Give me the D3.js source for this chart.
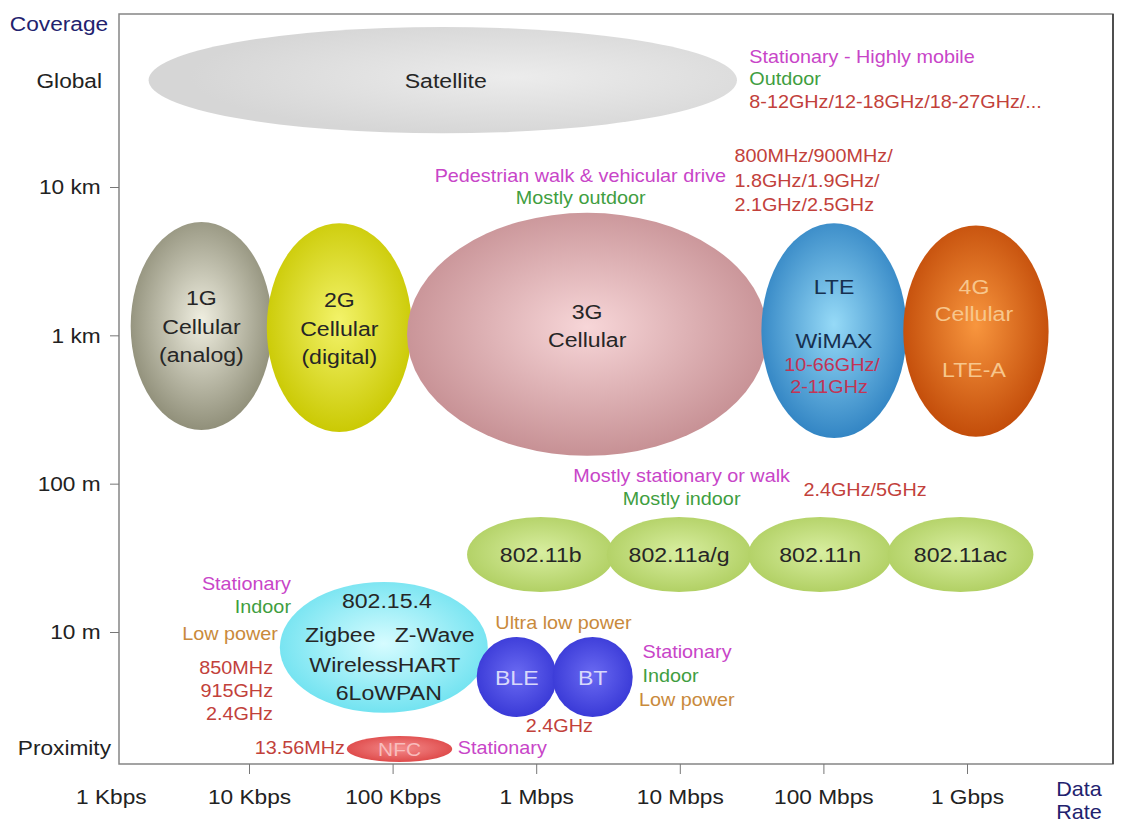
<!DOCTYPE html>
<html><head><meta charset="utf-8">
<script src="https://cdn.jsdelivr.net/npm/d3@7/dist/d3.min.js"></script>
<style>
body{margin:0;background:#fff;}
text{font-family:"Liberation Sans",Arial,sans-serif;}
</style>
</head><body>
<svg id="chart" width="1122" height="823"></svg>
<script>
// ---------------- DATA ----------------
const rateTicks = [1e3, 1e4, 1e5, 1e6, 1e7, 1e8, 1e9];
const rateTickLabels = ["1 Kbps","10 Kbps","100 Kbps","1 Mbps","10 Mbps","100 Mbps","1 Gbps"];
const coverageTicks = [10, 100, 1000, 10000];
const coverageTickLabels = ["10 m","100 m","1 km","10 km"];
const coverageCategories = [52000, 1.65];
const coverageCategoryLabels = ["Global","Proximity"];

const techNames   = ["Satellite","1G","2G","3G","LTE","4G","802.11b","802.11a/g","802.11n","802.11ac","802.15.4","BLE","BT","NFC"];
const rateLow     = [2.0e3, 1.5e3, 1.33e4, 1.26e5, 3.7e7, 3.6e8, 3.3e5, 3.1e6, 3.0e7, 2.8e8, 1.64e4, 3.85e5, 1.3e6, 4.8e4];
const rateHigh    = [2.5e7, 1.45e4, 1.36e5, 4.07e7, 3.8e8, 3.7e9, 3.5e6, 3.15e7, 3.0e8, 2.9e9, 4.6e5, 1.39e6, 4.7e6, 2.6e5];
const coverageLow = [2.3e4, 230, 223, 154, 203, 207, 18.6, 18.6, 18.6, 18.6, 2.85, 2.67, 2.67, 1.33];
const coverageHigh= [1.2e5, 5800, 5700, 6700, 5700, 5500, 59.6, 59.6, 59.6, 59.6, 21.7, 9.25, 9.25, 1.99];
const techLines = [
  ["Satellite"],
  ["1G","Cellular","(analog)"],
  ["2G","Cellular","(digital)"],
  ["3G","Cellular"],
  ["LTE","WiMAX","10-66GHz/","2-11GHz"],
  ["4G","Cellular","LTE-A"],
  ["802.11b"],["802.11a/g"],["802.11n"],["802.11ac"],
  ["802.15.4","Zigbee   Z-Wave","WirelessHART","6LoWPAN"],
  ["BLE"],["BT"],["NFC"]
];

const noteTexts = ["Stationary - Highly mobile","Outdoor","8-12GHz/12-18GHz/18-27GHz/...",
  "Pedestrian walk & vehicular drive","Mostly outdoor",
  "800MHz/900MHz/","1.8GHz/1.9GHz/","2.1GHz/2.5GHz",
  "Mostly stationary or walk","Mostly indoor","2.4GHz/5GHz",
  "Stationary","Indoor","Low power","850MHz","915GHz","2.4GHz",
  "Ultra low power","Stationary","Indoor","Low power","2.4GHz",
  "13.56MHz","Stationary"];
const noteRates = [3.05e7,3.05e7,3.05e7, 2.1e7,2.04e6, 2.4e7,2.4e7,2.4e7, 1.03e7,1.03e7,1.95e8,
  1.96e4,1.96e4,1.59e4,1.47e4,1.47e4,1.47e4, 1.55e6,5.5e6,5.5e6,5.2e6,1.45e6, 4.65e4,2.84e5];
const noteCoverages = [7.5e4,5.4e4,3.75e4, 1.19e4,8450, 1.62e4,1.1e4,7570, 113,78.9,90.7,
  21.1,14.7,9.7,5.72,4.0,2.8, 11.5,7.33,5.05,3.48,2.32, 1.65,1.65];
const noteKinds = ["mobility","environment","band","mobility","environment","band","band","band",
  "mobility","environment","band","mobility","environment","power","band","band","band",
  "power","mobility","environment","power","band","band","mobility"];

// ---------------- STYLE / LAYOUT ----------------
const W = 1122, H = 823;
const frame = {left:119, right:1113, top:14, bottom:764};
const SX_AXIS = 1.08, SX_TEXT = 1.1;
const noteAnchors = ["start","start","start","end","middle","start","start","start","middle","middle","middle",
  "end","end","end","end","end","end","middle","start","start","start","middle","end","start"];
const kindColor = {mobility:"#c845c8", environment:"#3f9e3f", band:"#c2413b", power:"#c98a3c"};
const bubbleColors = {
  "Satellite":["#ececec","#d6d6d6"],
  "1G":["#efeee0","#8d8c76"],
  "2G":["#f3f36a","#c9c800"],
  "3G":["#f7d6d8","#c58e92"],
  "LTE":["#96daf7","#2f82c2"],
  "4G":["#f8963e","#c14a08"],
  "802.11b":["#d8eea0","#b0cf62"],
  "802.11a/g":["#d8eea0","#b0cf62"],
  "802.11n":["#d8eea0","#b0cf62"],
  "802.11ac":["#d8eea0","#b0cf62"],
  "802.15.4":["#d6fcff","#6fe2f0"],
  "BLE":["#6a6af2","#3838d6"],
  "BT":["#6a6af2","#3838d6"],
  "NFC":["#f48c8c","#de4848"]
};
const lineDy = [[1],[-28,1,29],[-28,1,29],[-22,6],[-44,10,34,56],[-44,-17,39],[0],[0],[0],[0],[-47,-13,17,45],[1],[1],[0]];
const lineDx = [[3],[0,0,0],[0,0,0],[0,0],[0,0,-2,-5],[-2,-2,-2],[0],[0],[0],[0],[3,6,1,5],[0],[0],[0]];
function lineColor(name, i){
  if(name==="LTE") return i<2 ? "#17304f" : "#c23455";
  if(name==="4G") return "#f7c68c";
  if(name==="BLE"||name==="BT") return "#d8d8fb";
  if(name==="NFC") return "#f8bcbc";
  return "#262626";
}
function place(sel, px, py, sx){
  return sel.attr("transform",`translate(${px},${py}) scale(${sx},1)`);
}

// ---------------- SCALES ----------------
const x = d3.scaleLog().domain([1e4, 1e9]).range([249, 967]);
const y = d3.scaleLog().domain([10, 10000]).range([632, 187]);

const svg = d3.select("#chart");
svg.append("rect").attr("width",W).attr("height",H).attr("fill","#fff");

// gradients
const defs = svg.append("defs");
techNames.forEach((n,i)=>{
  const g = defs.append("radialGradient").attr("id","g"+i)
    .attr("cx", n==="Satellite" ? "62%" : "50%").attr("cy","47%").attr("r","55%");
  g.append("stop").attr("offset","0%").attr("stop-color",bubbleColors[n][0]);
  g.append("stop").attr("offset","100%").attr("stop-color",bubbleColors[n][1]);
});

// frame
svg.append("rect").attr("x",frame.left).attr("y",frame.top)
  .attr("width",frame.right-frame.left).attr("height",frame.bottom-frame.top)
  .attr("fill","none").attr("stroke","#858585").attr("stroke-width",1.5);
svg.append("line").attr("x1",frame.right).attr("x2",frame.right).attr("y1",frame.top).attr("y2",frame.bottom)
  .attr("stroke","#333").attr("stroke-width",1.5);

// bubbles
const bub = svg.append("g");
techNames.forEach((n,i)=>{
  const x0 = x(rateLow[i]), x1 = x(rateHigh[i]);
  const y0 = y(coverageHigh[i]), y1 = y(coverageLow[i]);
  bub.append("ellipse")
    .attr("cx",(x0+x1)/2).attr("cy",(y0+y1)/2)
    .attr("rx",(x1-x0)/2).attr("ry",(y1-y0)/2)
    .attr("fill","url(#g"+i+")");
});
techNames.forEach((n,i)=>{
  const cx = (x(rateLow[i])+x(rateHigh[i]))/2;
  const cy = (y(coverageHigh[i])+y(coverageLow[i]))/2;
  techLines[i].forEach((t,j)=>{
    const el = bub.append("text")
      .attr("text-anchor","middle").attr("dominant-baseline","central")
      .attr("font-size", (n==="LTE"&&j>=2) ? 18 : (n==="NFC" ? 19 : 21))
      .attr("fill",lineColor(n,j))
      .style("white-space","pre")
      .text(t);
    place(el, cx+lineDx[i][j], cy+lineDy[i][j], SX_TEXT);
  });
});

// annotations
const notes = svg.append("g");
noteTexts.forEach((t,i)=>{
  const el = notes.append("text")
    .attr("text-anchor",noteAnchors[i]).attr("dominant-baseline","central")
    .attr("font-size",18).attr("fill",kindColor[noteKinds[i]]).text(t);
  place(el, x(noteRates[i]), y(noteCoverages[i]), SX_TEXT);
});

// axes
const xAxis = d3.axisBottom(x).tickValues(rateTicks)
  .tickFormat((d,i)=>rateTickLabels[i]).tickSize(10).tickPadding(15);
const gx = svg.append("g").attr("transform",`translate(0,${frame.bottom})`).call(xAxis);
gx.select(".domain").remove();
gx.selectAll(".tick line").attr("stroke","#777").filter(d=>d<1e4).remove();
gx.selectAll(".tick text").attr("font-size",21).attr("fill","#222")
  .attr("font-family","'Liberation Sans',Arial,sans-serif")
  .attr("dx", d=> d<1e4 ? 5 : 0)
  .attr("transform",`scale(${SX_AXIS},1)`);

const yAxis = d3.axisLeft(y).tickValues(coverageTicks)
  .tickFormat(d=>coverageTickLabels[coverageTicks.indexOf(d)]).tickSize(9).tickPadding(8);
const gy = svg.append("g").attr("transform",`translate(${frame.left},0)`).call(yAxis);
gy.select(".domain").remove();
gy.selectAll(".tick line").attr("stroke","#777");
gy.selectAll(".tick text").attr("font-size",21).attr("fill","#222")
  .attr("font-family","'Liberation Sans',Arial,sans-serif")
  .attr("transform",`scale(${SX_AXIS},1)`);

// category labels on coverage axis (no tick)
coverageCategories.forEach((v,i)=>{
  const el = svg.append("text")
    .attr("text-anchor","end").attr("dominant-baseline","central")
    .attr("font-size",21).attr("fill","#222").text(coverageCategoryLabels[i]);
  place(el, i===0 ? 102 : 111, y(v), SX_AXIS);
});

// axis titles
place(svg.append("text").attr("text-anchor","middle").attr("dominant-baseline","central")
  .attr("font-size",21).attr("fill","#22226e").text("Coverage"), 59, 24, SX_AXIS);
place(svg.append("text").attr("text-anchor","middle").attr("dominant-baseline","central")
  .attr("font-size",20).attr("fill","#22226e").text("Data"), 1079, 789, SX_AXIS);
place(svg.append("text").attr("text-anchor","middle").attr("dominant-baseline","central")
  .attr("font-size",20).attr("fill","#22226e").text("Rate"), 1079, 812, SX_AXIS);
</script>
</body></html>
